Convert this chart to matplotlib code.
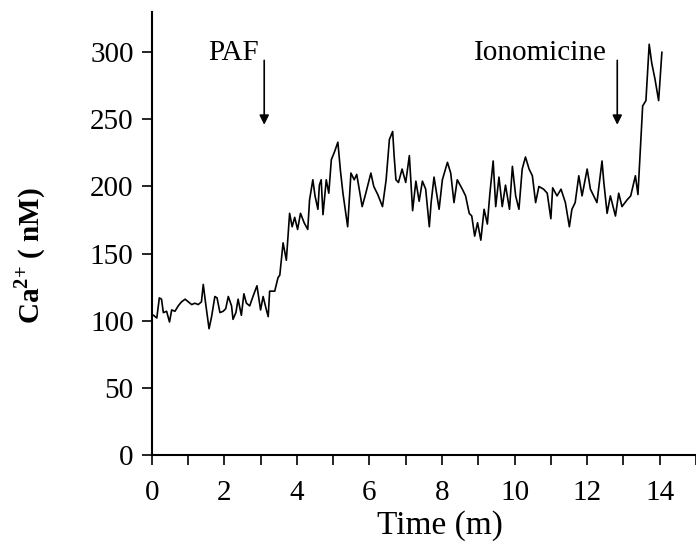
import numpy as np
import matplotlib
matplotlib.use('Agg')
from matplotlib import pyplot as plt
from matplotlib.ticker import MultipleLocator

# time (min) and Ca2+ (nM)
time_min = [0.05, 0.14, 0.21, 0.27, 0.32, 0.41, 0.49, 0.55, 0.64, 0.73,
            0.82, 0.92, 1.01, 1.10, 1.19, 1.28, 1.37, 1.42, 1.49, 1.58,
            1.65, 1.74, 1.80, 1.88, 1.97, 2.04, 2.11, 2.20, 2.24, 2.32,
            2.38, 2.47, 2.54, 2.61, 2.70, 2.79, 2.90, 3.00, 3.07, 3.16,
            3.21, 3.25, 3.39, 3.48, 3.53, 3.62, 3.71, 3.80, 3.87, 3.94,
            4.02, 4.10, 4.20, 4.30, 4.35, 4.44, 4.50, 4.58, 4.62, 4.67,
            4.72, 4.81, 4.88, 4.95, 5.04, 5.13, 5.20, 5.27, 5.40, 5.49,
            5.58, 5.65, 5.72, 5.80, 5.90, 6.04, 6.12, 6.23, 6.36, 6.46,
            6.55, 6.64, 6.68, 6.73, 6.80, 6.90, 7.00, 7.10, 7.19, 7.28,
            7.37, 7.46, 7.55, 7.65, 7.70, 7.78, 7.92, 8.01, 8.15, 8.24,
            8.33, 8.42, 8.56, 8.65, 8.75, 8.82, 8.90, 8.98, 9.07, 9.16,
            9.25, 9.32, 9.41, 9.48, 9.57, 9.66, 9.75, 9.86, 9.94, 10.03,
            10.12, 10.21, 10.30, 10.40, 10.49, 10.58, 10.67, 10.80, 10.90, 11.00,
            11.05, 11.17, 11.28, 11.40, 11.51, 11.58, 11.67, 11.77, 11.86, 12.00,
            12.09, 12.18, 12.27, 12.41, 12.46, 12.55, 12.64, 12.78, 12.87, 12.96,
            13.10, 13.20, 13.33, 13.40, 13.46, 13.53, 13.62, 13.71, 13.78, 13.87,
            13.97, 14.06]
ca_nm = [104, 102, 117, 116, 106, 107, 99, 108, 107, 111,
         114, 116, 114, 112, 113, 112, 114, 127, 112, 94,
         103, 118, 117, 106, 107, 109, 118, 111, 101, 106,
         116, 104, 120, 113, 111, 118, 126, 108, 118, 108,
         103, 122, 122, 132, 134, 158, 145, 180, 170, 177,
         168, 180, 173, 168, 190, 205, 193, 183, 201, 205,
         179, 205, 195, 220, 226, 233, 212, 195, 170, 210,
         205, 209, 198, 185, 195, 210, 200, 194, 185, 205,
         235, 241, 223, 205, 203, 213, 203, 223, 182, 204,
         189, 204, 198, 170, 188, 207, 183, 205, 218, 210,
         188, 205, 198, 193, 180, 178, 163, 173, 160, 183,
         172, 195, 219, 185, 207, 185, 201, 183, 215, 193,
         183, 213, 222, 213, 208, 188, 200, 198, 195, 176,
         199, 193, 198, 188, 170, 183, 188, 208, 193, 213,
         198, 193, 188, 219, 203, 180, 193, 178, 195, 185,
         190, 193, 208, 194, 225, 260, 264, 306, 292, 280,
         264, 300]

events = ['PAF', 'Ionomicine']
event_time = [3.1, 12.83]
label_x = [2.25, 10.7]

plt.rcParams['font.family'] = ['Liberation Serif', 'DejaVu Serif']
plt.rcParams['mathtext.fontset'] = 'custom'
plt.rcParams['mathtext.rm'] = 'Liberation Serif'
plt.rcParams['mathtext.bf'] = 'Liberation Serif:bold'

fig = plt.figure(figsize=(6.96, 5.48), dpi=100)
ax = fig.add_axes([0.218, 0.170, 0.782, 0.808])

ax.plot(time_min, ca_nm, color='black', linewidth=1.2)

for name, te, lx in zip(events, event_time, label_x):
    ax.text(lx, 294, name, ha='center', va='baseline', fontsize=21)
    ax.annotate('', xy=(te, 246), xytext=(te, 294),
                arrowprops=dict(arrowstyle='-|>', color='black', lw=1.2,
                                mutation_scale=14, shrinkA=0, shrinkB=0))

ax.set_xlim(0, 15)
ax.set_ylim(0, 330)
ax.set_yticks([0, 50, 100, 150, 200, 250, 300])
ax.xaxis.set_major_locator(MultipleLocator(2))
ax.xaxis.set_minor_locator(MultipleLocator(1))
ax.set_xticks([0, 2, 4, 6, 8, 10, 12, 14])
ax.tick_params(axis='both', which='both', direction='out', length=7,
               width=1.2, labelsize=21)
ax.tick_params(axis='x', pad=11)
ax.tick_params(axis='y', pad=6)

for side in ['top', 'right']:
    ax.spines[side].set_visible(False)
for side in ['left', 'bottom']:
    ax.spines[side].set_linewidth(1.5)

ax.set_xlabel('Time (m)', fontsize=24)
ax.xaxis.set_label_coords(0.53, -0.125)
ax.set_ylabel(r'Ca$^{\mathbf{2{+}}}$ ( nM)', fontsize=21, fontweight='bold')
ax.yaxis.set_label_coords(-0.19, 0.45)

fig.savefig('out.png', dpi=100)
